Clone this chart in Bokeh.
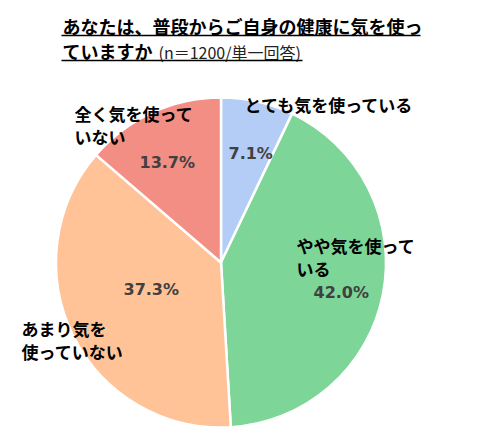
from math import pi

from bokeh.core.properties import value
from bokeh.embed import file_html
from bokeh.models import ColumnDataSource, Range1d
from bokeh.plotting import figure
from bokeh.resources import INLINE
import numpy as np

W, H = 477, 444

# survey answers, clockwise from 12 o'clock
answers = ["とても気を使っている", "やや気を使っている", "あまり気を使っていない", "全く気を使っていない"]
shares = [7.1, 42.0, 37.3, 13.7]
colors = ["#b4cdf6", "#7dd597", "#ffc397", "#f28e84"]

title_line1 = "あなたは、普段からご自身の健康に気を使っ"
title_line2 = "ていますか"
subtitle = "(n＝1200/単一回答)"

# label placement, in page pixels (x, y of the text's left/middle)
name_lines = [["とても気を使っている"], ["やや気を使って", "いる"],
              ["あまり気を", "使っていない"], ["全く気を使って", "いない"]]
name_pos = [(244, 104), (296, 245), (21, 328), (74, 113)]
pct_pos = [(228, 153), (313, 292), (123, 289), (139, 162)]


def px(x, y):
    # page pixel -> data coords
    return x, H - y


p = figure(width=W, height=H, output_backend="svg", toolbar_location=None,
           x_range=Range1d(0, W), y_range=Range1d(0, H),
           min_border=0, outline_line_color=None)
p.axis.visible = False
p.grid.visible = False

# pie
frac = np.array(shares) / sum(shares)
ends = np.cumsum(frac) * 2 * pi
starts = ends - frac * 2 * pi
cx, cy = px(220.5, 262)
src = ColumnDataSource(dict(
    start=pi / 2 - ends, end=pi / 2 - starts, color=colors))
p.wedge(x=cx, y=cy, radius=165, radius_units="screen",
        start_angle="start", end_angle="end", source=src,
        fill_color="color", line_color="white", line_width=2.5)

# category names
nx, ny, nt = [], [], []
for lines, (x, y) in zip(name_lines, name_pos):
    for i, t in enumerate(lines):
        dx, dy = px(x, y + i * 23)
        nx.append(dx)
        ny.append(dy)
        nt.append(t)
p.text(nx, ny, text=nt, text_font=value("Noto Sans CJK JP"),
       text_font_size="17px", text_font_style="bold", text_color="black",
       text_baseline="middle", text_align="left")

# percentages
pxs, pys = zip(*[px(x, y) for x, y in pct_pos])
p.text(list(pxs), list(pys), text=[f"{s:.1f}%" for s in shares],
       text_font=value("DejaVu Sans"), text_font_size="16px",
       text_font_style="bold", text_color="#404040",
       text_baseline="middle", text_align="left")

# title, underlined
tx, ty = px(62, 25)
p.text([tx], [ty], text=[title_line1], text_font=value("Noto Sans CJK JP"),
       text_font_size="18px", text_font_style="bold", text_color="black",
       text_baseline="middle", text_align="left")
tx, ty = px(62, 50)
p.text([tx], [ty], text=[title_line2], text_font=value("Noto Sans CJK JP"),
       text_font_size="18px", text_font_style="bold", text_color="black",
       text_baseline="middle", text_align="left")
tx, ty = px(158, 51)
p.text([tx], [ty], text=[subtitle], text_font=value("Noto Sans CJK JP"),
       text_font_size="16px", text_color="#222222",
       text_baseline="middle", text_align="left")
x0, y0 = px(61, 35)
x1, y1 = px(420, 35)
x2, y2 = px(61, 60)
x3, y3 = px(302, 60)
p.segment([x0, x2], [y0, y2], [x1, x3], [y1, y3],
          line_color="black", line_width=1.5)

open("out.html", "w").write(file_html(p, INLINE))
